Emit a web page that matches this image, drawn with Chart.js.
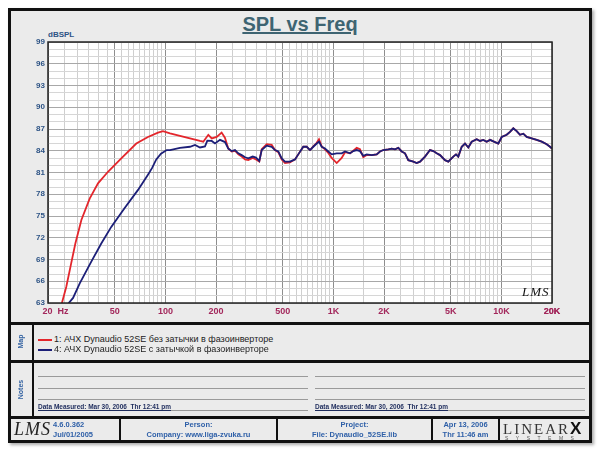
<!DOCTYPE html>
<html>
<head>
<meta charset="utf-8">
<script src="https://cdn.jsdelivr.net/npm/chart.js@4.4.1/dist/chart.umd.min.js"></script>
<style>
body{margin:0;width:600px;height:450px;overflow:hidden;background:#fff;font-family:"Liberation Sans",Arial,sans-serif;}
.abs{position:absolute;}
#frame{left:8px;top:8px;width:578px;height:429px;border:3px solid #111;background:#ebebeb;box-shadow:2px 2px 3px #aaa;}
.hl{background:#111;height:3px;left:8px;width:584px;}
.vl{background:#111;width:2px;}
#title{left:0;width:600px;top:13px;text-align:center;font-size:20px;font-weight:bold;color:#3e6472;}
#title span{text-decoration:underline;}
#unit{left:48px;top:30px;font-size:8px;font-weight:bold;color:#2d5385;}
#lms{left:522px;top:284px;font:italic 13px "Liberation Serif",serif;color:#111;letter-spacing:1px;}
.side{font-size:7px;font-weight:bold;color:#2f5fa0;transform:rotate(-90deg);transform-origin:center;width:40px;text-align:center;}
.leg{left:38px;font-size:9px;color:#222;white-space:nowrap;}
.leg i{display:inline-block;width:14px;height:2px;vertical-align:middle;margin-right:2px;}
.note{background:#9a9a9a;height:1px;}
.meas{font-size:6.5px;font-weight:bold;color:#1d2b5c;text-decoration:underline;white-space:nowrap;}
.foot{font-size:7.5px;font-weight:bold;color:#2f60a8;text-align:center;line-height:10px;}
</style>
</head>
<body>
<div id="frame" class="abs"></div>
<div id="title" class="abs"><span>SPL vs Freq</span></div>
<div id="unit" class="abs">dBSPL</div>
<canvas id="spl" class="abs" width="600" height="322" style="left:0;top:0;"></canvas>
<div id="lms" class="abs">LMS</div>

<div class="abs hl" style="top:322px"></div>
<div class="abs hl" style="top:360px"></div>
<div class="abs hl" style="top:416px"></div>
<div class="abs vl" style="left:32px;top:325px;height:91px"></div>

<div class="abs side" style="left:0px;top:338px">Map</div>
<div class="abs side" style="left:0px;top:386px">Notes</div>
<div id="legend"></div>

<div class="abs note" style="left:38px;top:376px;width:270px"></div>
<div class="abs note" style="left:38px;top:388px;width:270px"></div>
<div class="abs note" style="left:38px;top:399px;width:270px"></div>
<div class="abs note" style="left:38px;top:410px;width:270px"></div>
<div class="abs note" style="left:315px;top:376px;width:270px"></div>
<div class="abs note" style="left:315px;top:388px;width:270px"></div>
<div class="abs note" style="left:315px;top:399px;width:270px"></div>
<div class="abs note" style="left:315px;top:410px;width:270px"></div>
<div class="abs meas" style="left:38px;top:403px">Data Measured: Mar 30, 2006&nbsp; Thr 12:41 pm</div>
<div class="abs meas" style="left:315px;top:403px">Data Measured: Mar 30, 2006&nbsp; Thr 12:41 pm</div>

<div class="abs vl" style="left:119px;top:419px;height:21px"></div>
<div class="abs vl" style="left:276px;top:419px;height:21px"></div>
<div class="abs vl" style="left:431px;top:419px;height:21px"></div>
<div class="abs vl" style="left:498px;top:419px;height:21px"></div>
<div class="abs" style="left:14px;top:419px;font:italic 18px 'Liberation Serif',serif;color:#222;letter-spacing:1px">LMS</div>
<div class="abs foot" style="left:53px;top:420px;text-align:left">4.6.0.362<br>Jul/01/2005</div>
<div class="abs foot" style="left:121px;top:420px;width:155px">Person:<br>Company: www.liga-zvuka.ru</div>
<div class="abs foot" style="left:278px;top:420px;width:153px">Project:<br>File: Dynaudio_52SE.lib</div>
<div class="abs foot" style="left:433px;top:420px;width:65px">Apr 13, 2006<br>Thr 11:46 am</div>
<div class="abs" style="left:503px;top:419px;font:15px 'Liberation Serif',serif;color:#333;letter-spacing:2px">LINEAR<b style="font:bold 17px 'Liberation Sans',sans-serif;color:#111">X</b></div>
<div class="abs" style="left:505px;top:435px;font-size:5px;color:#555;letter-spacing:7.5px">SYSTEMS</div>

<script>
// axis ticks
const xTickValues = [20, 50, 100, 200, 500, 1000, 2000, 5000, 10000, 20000];
const xTickLabels = ['      20  Hz', '50', '100', '200', '500', '1K', '2K', '5K', '10K', '20K'];
const yTickValues = [63, 66, 69, 72, 75, 78, 81, 84, 87, 90, 93, 96, 99];

// series 1: без затычки (red)
const redFreq = [23.0, 24.2, 25.7, 27.5, 29.1, 31.6, 35.4, 39.7, 45.5, 54.6, 67.1, 78.7, 90.3, 96.7,
  106.5, 122, 140, 160.6, 168, 180, 188.6, 202, 216, 226, 236.7, 248, 259.5, 271.5, 284.5, 297.7,
  311.4, 330.7, 346, 362, 374.2, 400.6, 429.1, 449, 469.8, 492.2, 514.9, 551.4, 590.5, 617.8,
  661.6, 693.2, 725.3, 758.9, 795.1, 820.5, 851.5, 890.9, 932.1, 976.6, 1046, 1120, 1172, 1255,
  1313, 1376, 1439, 1506, 1578, 1690, 1810, 1893, 1981, 2122, 2223, 2325, 2433, 2549, 2667, 2791,
  2989, 3131, 3276, 3509, 3757, 3931, 4119, 4309, 4615, 4829, 5172, 5366, 5538, 5802, 6071, 6351,
  6654, 7127, 7456, 7801, 8173, 8551, 9159, 9583, 10038, 10750, 11247, 11767, 12328, 12899, 13496,
  14139, 15148, 16221, 17370, 18600, 19461, 20000];
const redDb = [61.0, 63.0, 65.25, 68.5, 71.2, 74.45, 77.4, 79.5, 81.1, 82.95, 85.0, 85.9, 86.5, 86.7,
  86.4, 86.05, 85.7, 85.35, 85.25, 86.2, 85.7, 85.9, 86.5, 85.8, 84.3, 83.9, 84.0, 83.5, 83.2, 82.8,
  82.7, 83.0, 82.8, 82.5, 84.2, 84.9, 84.8, 84.1, 83.8, 82.8, 82.3, 82.4, 82.8, 83.5,
  84.55, 84.55, 84.1, 84.6, 85.1, 85.6, 84.6, 84.2, 83.7, 83.0, 82.3, 83.0, 83.8, 83.65,
  84.0, 84.4, 84.2, 83.1, 83.4, 83.4, 83.5, 83.9, 84.1, 84.2, 84.3, 84.2, 84.4, 83.9, 83.65, 82.7,
  82.5, 82.3, 82.5, 83.2, 84.1, 83.95, 83.65, 83.4, 82.7, 82.5, 83.2, 83.5, 83.2, 84.55, 85.0, 84.45,
  85.25, 85.6, 85.35, 85.5, 85.25, 85.5, 85.2, 85.0, 85.9, 86.2, 86.6, 87.1, 86.7, 86.2, 86.35,
  85.9, 85.7, 85.5, 85.25, 84.9, 84.55, 84.3];

// series 4: с затычкой (blue)
const blueFreq = [25.5, 26.6, 28.2, 30.9, 36.2, 41.5, 47.6, 57.2, 68.7, 78.7, 83.2, 88.2, 94.1, 101.8,
  106.5, 122, 140, 150, 160.6, 172, 177.6, 188.6, 197.3, 211.3, 226.3, 236.7, 248, 259.5, 271.5,
  284.5, 297.7, 311.4, 330.7, 346, 362, 374.2, 400.6, 429.1, 449, 469.8, 492.2, 514.9, 551.4, 590.5,
  617.8, 661.6, 693.2, 725.3, 758.9, 795.1, 820.5, 851.5, 890.9, 932.1, 976.6, 1046, 1120, 1172,
  1255, 1313, 1376, 1439, 1506, 1578, 1690, 1810, 1893, 1981, 2122, 2223, 2325, 2433, 2549, 2667,
  2791, 2989, 3131, 3276, 3509, 3757, 3931, 4119, 4309, 4615, 4829, 5172, 5366, 5538, 5802, 6071,
  6351, 6654, 7127, 7456, 7801, 8173, 8551, 9159, 9583, 10038, 10750, 11247, 11767, 12328, 12899,
  13496, 14139, 15148, 16221, 17370, 18600, 19461, 20000];
const blueDb = [62.0, 63.0, 63.7, 65.7, 68.7, 71.2, 73.5, 76.1, 78.6, 80.7, 81.6, 82.8, 83.6, 84.1,
  84.1, 84.4, 84.55, 84.8, 84.45, 84.6, 85.4, 85.35, 85.0, 85.5, 85.2, 84.3, 83.95, 84.1, 83.65,
  83.4, 83.1, 82.95, 83.2, 83.05, 82.6, 84.1, 84.7, 84.55, 84.1, 83.9, 82.95, 82.5, 82.5, 82.8,
  83.5, 84.55, 84.55, 84.1, 84.55, 85.0, 85.25, 84.55, 84.3, 83.9, 83.5, 83.65, 83.65, 83.9,
  83.65, 83.95, 84.1, 83.95, 83.3, 83.5, 83.4, 83.5, 83.9, 84.1, 84.2, 84.3, 84.2, 84.4, 83.9, 83.65,
  82.7, 82.5, 82.3, 82.5, 83.2, 84.1, 83.95, 83.65, 83.4, 82.7, 82.5, 83.2, 83.5, 83.2, 84.55, 85.0,
  84.45, 85.25, 85.6, 85.35, 85.5, 85.25, 85.5, 85.2, 85.0, 85.9, 86.2, 86.6, 87.1, 86.7, 86.2,
  86.35, 85.9, 85.7, 85.5, 85.25, 84.9, 84.55, 84.3];

const seriesNames = ['1: АЧХ Dynaudio 52SE без затычки в фазоинверторе', '4: АЧХ Dynaudio 52SE с затычкой в фазоинверторе'];
const seriesColors = ['#e3262c', '#1c1f78'];

/* legend (Map box) */
var legend = document.getElementById('legend');
seriesNames.forEach(function(name, i){
    var d = document.createElement('div');
    d.className = 'abs leg';
    d.style.top = (334 + i*10) + 'px';
    d.innerHTML = '<i style="background:' + seriesColors[i] + '"></i>' + name;
    legend.appendChild(d);
});

/* grid: 1 .. 9.5 per decade */
var gridFreqs = [];
[10, 100, 1000, 10000].forEach(function(dec){
    for(let m=1; m<10; m+=0.5){
        var f = m*dec;
        if(f>=20 && f<=20000){ gridFreqs.push(f) }
    }
});
gridFreqs.push(20000);

function isMajorX(v){
    return xTickValues.some(t => Math.abs(t-v) < 1e-6);
}

function toPoints(fs, ds){
    return fs.map((f, i) => ({x: f, y: ds[i]}));
}

const plotBg = {
    id: 'plotBg',
    beforeDraw(chart){
        const a = chart.chartArea, c = chart.ctx;
        c.save();
        c.fillStyle = '#fff';
        c.fillRect(a.left, a.top, a.right-a.left, a.bottom-a.top);
        c.restore();
    },
    afterDraw(chart){
        const a = chart.chartArea, c = chart.ctx;
        c.save();
        c.strokeStyle = '#222';
        c.lineWidth = 1.5;
        c.strokeRect(a.left, a.top, a.right-a.left, a.bottom-a.top);
        c.restore();
    }
};

new Chart(document.getElementById('spl'), {
    type: 'line',
    data: {
        datasets: [
            {label: seriesNames[1], data: toPoints(blueFreq, blueDb), borderColor: seriesColors[1], borderWidth: 1.8, pointRadius: 0, tension: 0, order: 0},
            {label: seriesNames[0], data: toPoints(redFreq, redDb), borderColor: seriesColors[0], borderWidth: 1.8, pointRadius: 0, tension: 0, order: 1}
        ]
    },
    options: {
        responsive: false,
        animation: false,
        devicePixelRatio: 1,
        layout: {padding: {left: 0, right: 48, top: 42, bottom: 0}},
        plugins: {legend: {display: false}, tooltip: {enabled: false}},
        scales: {
            x: {
                type: 'logarithmic',
                min: 20, max: 20000,
                afterBuildTicks: function(s){ s.ticks = gridFreqs.map(v => ({value: v})) },
                afterFit: function(s){ s.height = 19 },
                border: {display: false},
                grid: {
                    drawTicks: false,
                    color: ctx => (ctx.tick && isMajorX(ctx.tick.value)) ? '#8e8e8e' : '#cfcfcf',
                    lineWidth: 1
                },
                ticks: {
                    autoSkip: false, maxRotation: 0, padding: 3,
                    color: '#a3285c',
                    font: {family: 'Liberation Sans', size: 9, weight: 'bold'},
                    callback: function(value){
                        var i = xTickValues.findIndex(t => Math.abs(t-value) < 1e-6);
                        return i<0 ? '' : xTickLabels[i];
                    }
                }
            },
            y: {
                min: 63, max: 99,
                afterBuildTicks: function(s){
                    var t = [];
                    for(let v=63; v<=99; v++){ t.push({value: v}) }
                    s.ticks = t;
                },
                afterFit: function(s){ s.width = 48 },
                border: {display: false},
                grid: {
                    drawTicks: false,
                    color: ctx => (ctx.tick && yTickValues.includes(ctx.tick.value)) ? '#a8a8a8' : '#d6d6d6'
                },
                ticks: {
                    autoSkip: false,
                    padding: 3,
                    color: '#2d5385',
                    font: {family: 'Liberation Sans', size: 8, weight: 'bold'},
                    callback: v => yTickValues.includes(v) ? String(v) : ''
                }
            }
        }
    },
    plugins: [plotBg]
});
</script>
</body>
</html>
